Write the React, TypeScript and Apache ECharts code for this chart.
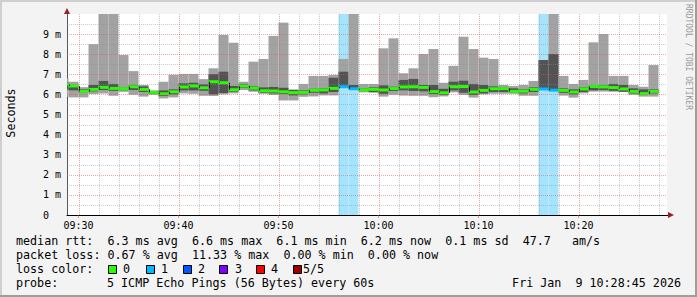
import React, { useEffect, useRef } from 'react';
import * as echarts from 'echarts';

// Time axis in minutes since midnight
const X_MIN = 568.85; // 09:28:51
const X_MAX = 628.85; // 10:28:51
const FIRST_BIN = 568; // first bin starts 09:28, one bin per minute

const xTickMinutes = [570, 580, 590, 600, 610, 620];
const xTickLabels = ['09:30', '09:40', '09:50', '10:00', '10:10', '10:20'];
const yTickLabels = ['0', '1 m', '2 m', '3 m', '4 m', '5 m', '6 m', '7 m', '8 m', '9 m'];

// values in ms (smoke: outer min/max = light, inner = dark)
const lightMax = [6.80, 6.63, 6.36, 8.50, 10.3, 10.3, 7.96, 7.16, 6.47, 6.20, 6.63, 6.98, 7.02, 7.02, 6.76, 7.30, 8.96, 8.57, 6.63, 7.63, 7.76, 8.91, 9.57, 6.25, 6.52, 6.92, 6.92, 6.97, 7.76, 10.3, 6.52, 6.52, 8.29, 8.79, 7.05, 7.30, 8.01, 8.26, 6.58, 7.42, 8.87, 8.26, 7.83, 7.76, 6.47, 6.42, 6.47, 6.67, 7.71, 10.3, 6.92, 6.52, 6.72, 8.59, 9.00, 6.92, 6.92, 6.47, 6.38, 7.46];
const lightMin = [5.88, 5.85, 5.85, 6.02, 6.05, 5.93, 6.13, 5.98, 5.89, 5.98, 5.80, 5.85, 6.05, 6.03, 5.93, 5.92, 6.00, 6.05, 6.22, 6.13, 6.03, 5.97, 5.70, 5.70, 5.88, 5.90, 5.95, 5.95, 6.36, 6.25, 6.10, 6.08, 5.89, 5.98, 5.94, 5.93, 5.93, 5.86, 5.90, 6.10, 5.97, 5.84, 6.00, 6.03, 6.03, 6.03, 5.93, 5.93, 6.27, 6.20, 5.94, 5.84, 6.05, 6.14, 6.14, 6.13, 6.12, 5.98, 5.89, 5.89];
const darkMax = [6.60, 6.45, 6.25, 6.47, 6.67, 6.52, 6.33, 6.47, 6.40, 6.15, 6.20, 6.25, 6.55, 6.58, 6.50, 7.01, 7.13, 6.42, 6.52, 6.40, 6.35, 6.37, 6.33, 6.22, 6.20, 6.28, 6.30, 6.83, 7.13, 6.47, 6.30, 6.35, 6.45, 6.38, 6.72, 6.77, 6.47, 6.47, 6.28, 6.63, 6.68, 6.52, 6.47, 6.40, 6.37, 6.30, 6.25, 6.35, 7.71, 8.01, 6.30, 6.25, 6.35, 6.45, 6.45, 6.52, 6.47, 6.30, 6.25, 6.25];
const darkMin = [6.25, 6.20, 6.08, 6.15, 6.22, 6.18, 6.20, 6.22, 6.12, 6.02, 5.92, 6.00, 6.20, 6.20, 6.18, 6.00, 6.07, 6.13, 6.33, 6.20, 6.08, 6.05, 6.02, 5.95, 6.00, 6.08, 6.05, 6.12, 6.36, 6.30, 6.17, 6.12, 6.03, 6.17, 6.20, 6.17, 6.15, 6.02, 5.97, 6.20, 6.08, 5.97, 6.05, 6.12, 6.12, 6.08, 6.05, 6.12, 6.27, 6.20, 6.08, 6.00, 6.12, 6.20, 6.22, 6.18, 6.13, 6.05, 5.97, 6.05];
const medianRtt = [6.50, 6.42, 6.15, 6.25, 6.35, 6.30, 6.27, 6.38, 6.25, 6.10, 6.03, 6.13, 6.37, 6.42, 6.33, 6.63, 6.58, 6.23, 6.42, 6.31, 6.18, 6.17, 6.13, 6.09, 6.10, 6.20, 6.22, 6.30, 6.38, 6.28, 6.23, 6.25, 6.22, 6.29, 6.37, 6.38, 6.35, 6.14, 6.08, 6.38, 6.39, 6.12, 6.20, 6.28, 6.29, 6.15, 6.16, 6.25, 6.27, 6.21, 6.20, 6.12, 6.27, 6.39, 6.37, 6.34, 6.27, 6.15, 6.04, 6.15];
const lostPings = [0, 0, 0, 0, 0, 0, 0, 0, 0, 0, 0, 0, 0, 0, 0, 0, 0, 0, 0, 0, 0, 0, 0, 0, 0, 0, 0, 0, 1, 1, 0, 0, 0, 0, 0, 0, 0, 0, 0, 0, 0, 0, 0, 0, 0, 0, 0, 0, 1, 1, 0, 0, 0, 0, 0, 0, 0, 0, 0, 0];

const lossColors = ['#26ff00', '#00b8ff', '#0059ff', '#7e00ff', '#ff0000', '#a10000'];
const lossLabels = ['0', '1', '2', '3', '4', '5/5'];
const lossBgColors = ['#ffffff', '#a6e4fd', '#a8c4ff', '#d4b0ff', '#ffb0b0', '#e0a0a0'];

const legendMedian = 'median rtt:  6.3 ms avg  6.6 ms max  6.1 ms min  6.2 ms now  0.1 ms sd  47.7   am/s';
const legendLoss = 'packet loss: 0.67 % avg  11.33 % max  0.00 % min  0.00 % now';
const legendProbe = '5 ICMP Echo Pings (56 Bytes) every 60s';
const legendDate = 'Fri Jan  9 10:28:45 2026';
const swatchX = [108, 146, 183, 219, 256, 293];
const swatchLabelX = [123, 161, 198, 235, 271, 303];

const MONO = '"DejaVu Sans Mono", monospace';
const LEGEND_FS = 11.7;

function text(t: string, x: number, y: number, extra: any = {}) {
  return {
    type: 'text', x, y, z: 10,
    style: {
      text: t, fill: '#000', fontSize: LEGEND_FS, fontFamily: MONO,
      textVerticalAlign: 'middle', verticalAlign: 'middle', ...extra,
    },
  };
}

function buildOption() {
  const bins = medianRtt.map((_, i) => FIRST_BIN + i);
  const smokeData = bins.map((s, i) => [s, lightMin[i], lightMax[i], darkMin[i], darkMax[i]]);
  const medianData = bins.map((s, i) => [s, medianRtt[i], lostPings[i], i > 0 ? medianRtt[i - 1] : medianRtt[i]]);
  const lossBgData = bins.map((s, i) => [s, 5, lostPings[i]]).filter((d) => d[2] > 0);

  const gridData: number[][] = [];
  for (let m = 570; m <= 628; m += 2) gridData.push([m, 5, m % 10 === 0 ? 1 : 0]);
  for (let v = 0.5; v < 10; v += 0.5) gridData.push([600, v, Number.isInteger(v) ? 3 : 2]);

  const graphic: any[] = [
    { type: 'rect', shape: { x: 0, y: 0, width: 697, height: 2 }, style: { fill: '#cfcfcf' } },
    { type: 'rect', shape: { x: 0, y: 0, width: 2, height: 297 }, style: { fill: '#cfcfcf' } },
    { type: 'rect', shape: { x: 0, y: 295, width: 697, height: 2 }, style: { fill: '#9e9e9e' } },
    { type: 'rect', shape: { x: 695, y: 0, width: 2, height: 297 }, style: { fill: '#9e9e9e' } },
    { type: 'polygon', z: 20, shape: { points: [[64, 14], [70, 14], [67, 8]] }, style: { fill: '#9a1f1f' } },
    { type: 'polygon', z: 20, shape: { points: [[668, 212], [668, 218], [674, 215]] }, style: { fill: '#9a1f1f' } },
    { type: 'line', z: 19, shape: { x1: 667, y1: 215.5, x2: 669, y2: 215.5 }, style: { stroke: '#000', lineWidth: 1 } },
    {
      type: 'text', x: 11, y: 113, rotation: Math.PI / 2, z: 10,
      style: { text: 'Seconds', fill: '#000', fontSize: LEGEND_FS, fontFamily: MONO, textAlign: 'center', align: 'center', textVerticalAlign: 'middle', verticalAlign: 'middle' },
    },
    {
      type: 'text', x: 688, y: 4, rotation: -Math.PI / 2, z: 10,
      style: { text: 'RRDTOOL / TOBI OETIKER', fill: '#9a9a9a', fontSize: 8, fontFamily: MONO, textAlign: 'left', align: 'left', textVerticalAlign: 'middle', verticalAlign: 'middle' },
    },
  ];
  graphic.push(text(legendMedian, 16, 241));
  graphic.push(text(legendLoss, 16, 255));
  graphic.push(text('loss color:', 16, 269));
  lossColors.forEach((c, i) => {
    graphic.push({ type: 'rect', z: 10, shape: { x: swatchX[i] + 0.5, y: 265.5, width: 8, height: 8 }, style: { fill: c, stroke: '#000', lineWidth: 1 } });
    graphic.push(text(lossLabels[i], swatchLabelX[i], 269));
  });
  graphic.push(text('probe:', 16, 283));
  graphic.push(text(legendProbe, 107, 283));
  graphic.push(text(legendDate, 681, 283, { textAlign: 'right', align: 'right' }));

  return {
    animation: false,
    backgroundColor: '#f3f3f3',
    grid: { left: 67, top: 14, width: 600, height: 201, show: true, backgroundColor: '#ffffff', borderWidth: 0 },
    xAxis: {
      type: 'value', min: X_MIN, max: X_MAX,
      axisLine: { show: true, lineStyle: { color: '#000', width: 1 } },
      axisTick: { show: true, customValues: xTickMinutes, length: 3, inside: false, lineStyle: { color: 'rgba(222,80,80,0.6)' } },
      axisLabel: {
        customValues: xTickMinutes,
        formatter: (v: number) => xTickLabels[xTickMinutes.indexOf(Math.round(v))] ?? '',
        fontFamily: MONO, fontSize: 10, color: '#000', margin: 5,
      },
      splitLine: { show: false },
    },
    yAxis: {
      type: 'value', min: 0, max: 10, interval: 1,
      axisLine: { show: true, lineStyle: { color: '#555', width: 1 } },
      axisTick: { show: false },
      axisLabel: {
        formatter: (v: number) => (v >= 10 ? '' : yTickLabels[Math.round(v)]),
        fontFamily: MONO, fontSize: 10, color: '#000', align: 'left', margin: 24,
      },
      splitLine: { show: false },
    },
    graphic,
    series: [
      {
        type: 'custom', name: 'lossBg', z: 1, clip: true, data: lossBgData,
        renderItem: (_p: any, api: any) => {
          const s = api.value(0);
          const a = api.coord([s, 10]);
          const b = api.coord([s + 1, 0]);
          return { type: 'rect', shape: { x: a[0], y: a[1], width: b[0] - a[0], height: b[1] - a[1] }, style: { fill: lossBgColors[api.value(2)] } };
        },
      },
      {
        type: 'custom', name: 'smoke', z: 2, clip: true, data: smokeData,
        renderItem: (_p: any, api: any) => {
          const s = api.value(0);
          const l1 = api.coord([s, api.value(2)]);
          const l2 = api.coord([s + 1, api.value(1)]);
          const d1 = api.coord([s, api.value(4)]);
          const d2 = api.coord([s + 1, api.value(3)]);
          return {
            type: 'group',
            children: [
              { type: 'rect', shape: { x: l1[0], y: l1[1], width: l2[0] - l1[0], height: l2[1] - l1[1] }, style: { fill: '#a2a2a2' } },
              { type: 'rect', shape: { x: d1[0], y: d1[1], width: d2[0] - d1[0], height: d2[1] - d1[1] }, style: { fill: '#535353' } },
            ],
          };
        },
      },
      {
        type: 'custom', name: 'median', z: 4, clip: true, data: medianData,
        renderItem: (_p: any, api: any) => {
          const s = api.value(0);
          const m = api.coord([s, api.value(1)]);
          const e = api.coord([s + 1, api.value(1)]);
          const pm = api.coord([s, api.value(3)]);
          const x = Math.round(m[0]) + 0.5;
          const children: any[] = [
            { type: 'rect', shape: { x: m[0], y: m[1] - 1.5, width: e[0] - m[0], height: 3 }, style: { fill: lossColors[api.value(2)] } },
          ];
          if (Math.abs(pm[1] - m[1]) > 1) {
            children.push({ type: 'line', shape: { x1: x, y1: pm[1], x2: x, y2: m[1] }, style: { stroke: '#111', lineWidth: 1 } });
          }
          return { type: 'group', children };
        },
      },
      {
        type: 'custom', name: 'grid', z: 5, clip: true, silent: true, data: gridData,
        renderItem: (_p: any, api: any) => {
          const kind = api.value(2);
          const color = kind === 1 || kind === 3 ? 'rgba(222,80,80,0.5)' : 'rgba(143,143,143,0.45)';
          if (kind <= 1) {
            const a = api.coord([api.value(0), 10]);
            const b = api.coord([api.value(0), 0]);
            const x = Math.round(a[0]) + 0.5;
            return { type: 'line', shape: { x1: x, y1: a[1], x2: x, y2: b[1] }, style: { stroke: color, lineWidth: 1, lineDash: [1, 1] } };
          }
          const a = api.coord([X_MIN, api.value(1)]);
          const b = api.coord([X_MAX, api.value(1)]);
          const y = Math.round(a[1]) + 0.5;
          return { type: 'line', shape: { x1: a[0], y1: y, x2: b[0], y2: y }, style: { stroke: color, lineWidth: 1, lineDash: [1, 1] } };
        },
      },
    ],
  };
}

export default function App() {
  const ref = useRef<HTMLDivElement>(null);
  useEffect(() => {
    const chart = echarts.init(ref.current!, null, { renderer: 'svg' });
    chart.setOption(buildOption() as any);
    return () => chart.dispose();
  }, []);
  return <div ref={ref} style={{ position: 'absolute', left: 0, top: 0, width: 697, height: 297 }} />;
}
